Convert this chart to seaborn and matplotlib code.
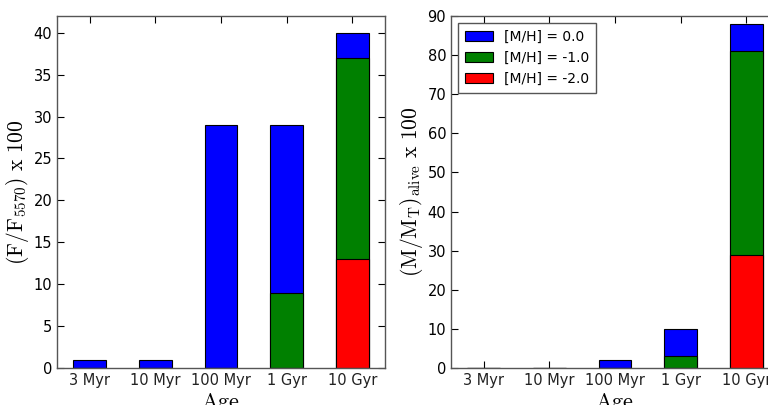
import matplotlib
matplotlib.use("Agg")
import matplotlib.pyplot as plt
import seaborn as sns
import pandas as pd

# Datos
edades = ['3 Myr', '10 Myr', '100 Myr', '1 Gyr', '10 Gyr']
etiquetas = ['[M/H] = 0.0', '[M/H] = -1.0', '[M/H] = -2.0']
colores = ['blue', 'green', 'red']

# Flujo (F/F5570) x 100 por metalicidad
flujo_0 = [1, 1, 29, 20, 3]
flujo_m1 = [0, 0, 0, 9, 24]
flujo_m2 = [0, 0, 0, 0, 13]

# Masa viva (M/MT) x 100 por metalicidad
masa_0 = [0, 0, 2, 7, 7]
masa_m1 = [0, 0, 0, 3, 52]
masa_m2 = [0, 0, 0, 0, 29]

sns.set_style('ticks')
plt.rcParams['font.family'] = ['DejaVu Sans']
plt.rcParams['mathtext.fontset'] = 'cm'
plt.rcParams['xtick.direction'] = 'in'
plt.rcParams['ytick.direction'] = 'in'
plt.rcParams['xtick.top'] = True
plt.rcParams['ytick.right'] = True
plt.rcParams['axes.edgecolor'] = 'black'
plt.rcParams['text.color'] = 'black'
plt.rcParams['axes.labelcolor'] = 'black'
plt.rcParams['xtick.color'] = 'black'
plt.rcParams['ytick.color'] = 'black'


def barras_apiladas(ax, capas, ylim, ylabel, leyenda=False):
    # capas: de abajo hacia arriba (rojo, verde, azul); se dibujan los totales acumulados
    tabla = pd.DataFrame({'edad': edades})
    acumulado = [0] * len(edades)
    totales = []
    for valores in capas:
        acumulado = [a + v for a, v in zip(acumulado, valores)]
        totales.append(list(acumulado))
    # dibujamos primero el total (azul) y luego encima verde y rojo
    for total, color, etiqueta in zip(totales[::-1], colores, etiquetas):
        tabla['valor'] = total
        sns.barplot(data=tabla, x='edad', y='valor', order=edades, color=color,
                    saturation=1, width=0.5, edgecolor='black', linewidth=0.8,
                    label=etiqueta, ax=ax, errorbar=None)
    ax.set_xlim(-0.5, 4.5)
    ax.set_ylim(*ylim)
    ax.set_ylabel(ylabel, fontsize=15.5, labelpad=2)
    ax.set_xlabel(r'$\rm Age$', fontsize=16, labelpad=2)
    ax.tick_params(labelsize=10.5, length=5, width=0.8, colors='black')
    ax.tick_params(axis='x', labelcolor='#222222')
    for lado in ax.spines.values():
        lado.set_linewidth(1)
        lado.set_color('#555555')
    if leyenda:
        ax.legend(loc='upper left', fontsize=10, fancybox=False, framealpha=1,
                  edgecolor='#555555', handlelength=2.0, borderpad=0.5)
    elif ax.get_legend() is not None:
        ax.get_legend().remove()


fig = plt.figure(figsize=(7.68, 4.05), dpi=100)
ax1 = fig.add_axes([57 / 768, 1 - 368 / 405, 328 / 768, 352 / 405])
ax2 = fig.add_axes([451 / 768, 1 - 368 / 405, 328 / 768, 352 / 405])

barras_apiladas(ax1, [flujo_m2, flujo_m1, flujo_0], (0, 42),
                r'$\rm (F/F_{5570})\ x\ 100$')
barras_apiladas(ax2, [masa_m2, masa_m1, masa_0], (0, 90),
                r'$\rm (M/M_{T})_{alive}\ x\ 100$', leyenda=True)

fig.savefig('out.png', dpi=100)
